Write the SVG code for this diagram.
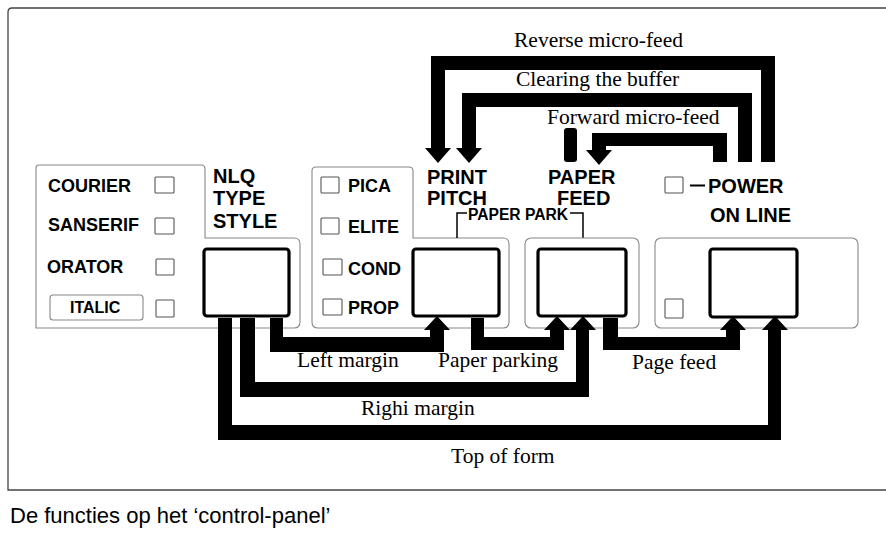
<svg xmlns="http://www.w3.org/2000/svg" width="886" height="533" viewBox="0 0 886 533">
<style>
.frame{fill:none;stroke:#444;stroke-width:1.3}
.panel{fill:none;stroke:#888;stroke-width:1.1}
.btn{fill:#fff;stroke:#000;stroke-width:3.2}
.led{fill:none;stroke:#555;stroke-width:1.1}
.lab{font-family:"Liberation Sans",Arial,sans-serif;font-weight:bold;font-size:18px;fill:#000}
.big{font-family:"Liberation Sans",Arial,sans-serif;font-weight:bold;font-size:20px;fill:#000}
.ser{font-family:"Liberation Serif","Times New Roman",serif;font-size:21.5px;fill:#000}
.cap{font-family:"Liberation Sans",Arial,sans-serif;font-size:22px;fill:#000}
.bar{fill:#000;stroke:none}
</style>
<rect width="886" height="533" fill="#fff"/>
<g id="frame">
<path class="frame" d="M886,8 H12 Q8,8 8,12 V490 H886"/>
</g>
<g id="panel-typestyle">
<path class="panel" d="M36,328 V168 Q36,165 39,165 H201 Q205,165 205,169 V238 H294 Q300,238 300,244 V322 Q300,328 294,328 Z"/>
<text class="lab" x="48" y="192">COURIER</text>
<rect class="led" x="155" y="177" width="19" height="16" rx="1"/>
<text class="lab" x="48" y="231">SANSERIF</text>
<rect class="led" x="155" y="218" width="19" height="16" rx="1"/>
<text class="lab" x="47" y="273">ORATOR</text>
<rect class="led" x="156" y="259" width="18" height="16" rx="1"/>
<rect class="panel" x="50" y="295" width="93" height="25" rx="3"/>
<text class="lab" x="70" y="313" style="font-size:16px">ITALIC</text>
<rect class="led" x="156" y="300" width="18" height="17" rx="1"/>
<text class="big" x="213" y="183">NLQ</text>
<text class="big" x="213" y="205">TYPE</text>
<text class="big" x="213" y="228">STYLE</text>
<rect id="btn-nlq" class="btn" x="204" y="249" width="85" height="67" rx="3"/>
</g>
<g id="panel-pitch">
<path class="panel" d="M312,322 V171 Q312,167 316,167 H409 Q413,167 413,171 V238 H503 Q509,238 509,244 V322 Q509,328 503,328 H318 Q312,328 312,322 Z"/>
<rect class="led" x="321" y="177" width="18" height="16" rx="1"/>
<text class="lab" x="348" y="192">PICA</text>
<rect class="led" x="321" y="218" width="18" height="16" rx="1"/>
<text class="lab" x="348" y="233">ELITE</text>
<rect class="led" x="323" y="259" width="19" height="16" rx="1"/>
<text class="lab" x="348" y="275">COND</text>
<rect class="led" x="323" y="299" width="19" height="16" rx="1"/>
<text class="lab" x="348" y="314">PROP</text>
<text class="big" x="427" y="184">PRINT</text>
<text class="big" x="427" y="205">PITCH</text>
<rect id="btn-pitch" class="btn" x="413" y="249" width="86" height="67" rx="3"/>
</g>
<g id="paper-park">
<path d="M457,238 V213 H467 M570,213 H583 V238" fill="none" stroke="#000" stroke-width="1.5"/>
<text x="468" y="220" textLength="100" lengthAdjust="spacingAndGlyphs" style="font-family:'Liberation Sans',Arial,sans-serif;font-weight:bold;font-size:16px;fill:#000">PAPER PARK</text>
</g>
<g id="panel-feed">
<rect class="panel" x="525" y="238" width="114" height="90" rx="6"/>
<text class="big" x="548" y="184">PAPER</text>
<text class="big" x="557" y="205">FEED</text>
<rect id="btn-feed" class="btn" x="538" y="249" width="88" height="67" rx="3"/>
</g>
<g id="panel-online">
<rect class="panel" x="655" y="238" width="203" height="90" rx="6"/>
<rect class="led" x="665" y="177" width="18" height="16" rx="1"/>
<line x1="690" y1="185.5" x2="705" y2="185.5" stroke="#000" stroke-width="2"/>
<text class="big" x="708" y="193">POWER</text>
<text class="big" x="710" y="222">ON LINE</text>
<rect class="led" x="665" y="299" width="18" height="19" rx="1"/>
<rect id="btn-online" class="btn" x="710" y="249" width="87" height="68" rx="3"/>
</g>
<g id="connectors">
<path class="bar" d="M775,162 V56 H431 V148 H425 L438,163 L451,148 H445 V70 H761 V162 Z"/>
<path class="bar" d="M752,162 V93 H462 V148 H456 L469,163 L482,148 H476 V107 H738 V162 Z"/>
<path class="bar" d="M727,162 V133 H592 V150 H586 L599,165 L612,150 H606 V146 H713 V162 Z"/>
<rect class="bar" x="564" y="128" width="13" height="34" rx="3"/>
<path class="bar" d="M270,318 V352 H444 V330 H450 L437,316 L424,330 H430 V337 H283 V318 Z"/>
<path class="bar" d="M471,318 V350 H564 V330 H570 L557,316 L544,330 H550 V337 H484 V318 Z"/>
<path class="bar" d="M240,318 V397 H589 V330 H596 L583,316 L570,330 H576 V382 H255 V318 Z"/>
<path class="bar" d="M218,318 V440 H781 V330 H788 L775,316 L762,330 H768 V425 H232 V318 Z"/>
<path class="bar" d="M603,318 V350 H740 V330 H746 L733,316 L720,330 H726 V337 H618 V318 Z"/>
</g>
<g id="labels">
<text class="ser" x="514" y="47">Reverse micro-feed</text>
<text class="ser" x="516" y="86">Clearing the buffer</text>
<text class="ser" x="547" y="124">Forward micro-feed</text>
<text class="ser" x="297" y="367">Left margin</text>
<text class="ser" x="438" y="367">Paper parking</text>
<text class="ser" x="632" y="369">Page feed</text>
<text class="ser" x="361" y="415">Righi margin</text>
<text class="ser" x="451" y="463">Top of form</text>
</g>
<text class="cap" x="10" y="523">De functies op het ‘control-panel’</text>
</svg>
